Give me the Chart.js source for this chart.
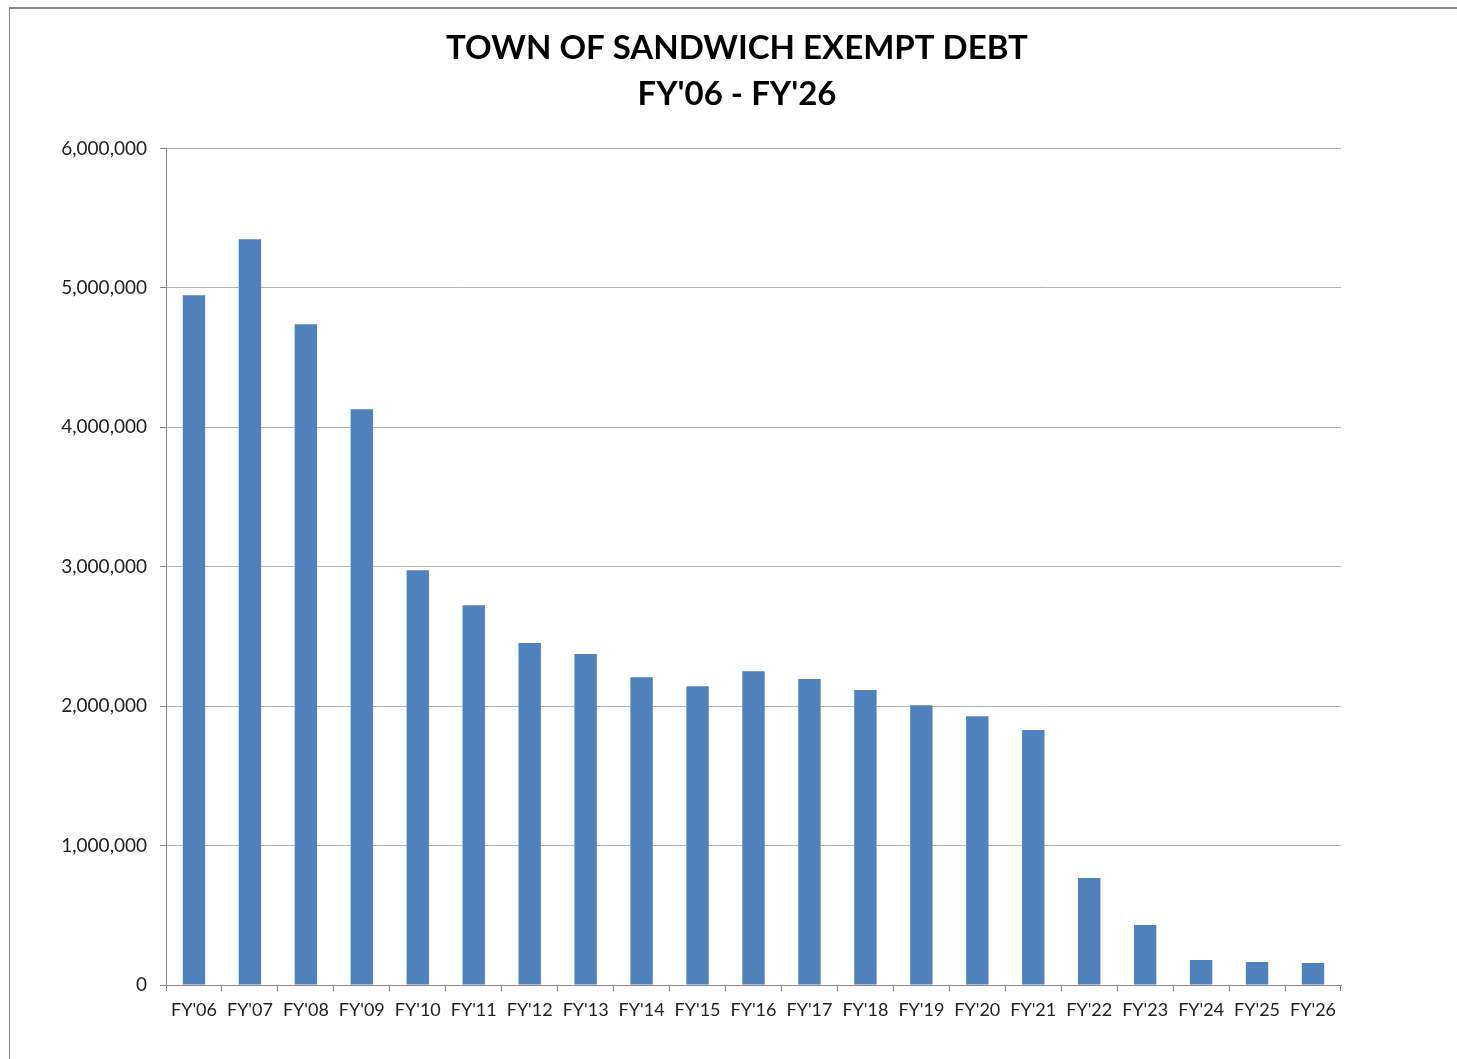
<!DOCTYPE html>
<html lang="en">
<head>
  <meta charset="UTF-8">
  <title>Town of Sandwich Exempt Debt</title>
  <script src="https://cdn.jsdelivr.net/npm/chart.js"></script>
  <style>
    html, body {
      margin: 0;
      padding: 0;
      background: #fff;
      overflow: hidden;
    }
    .frame {
      position: absolute;
      left: 9px;
      top: 7px;
      width: 1460px;
      height: 1070px;
      border-top: 2px solid #888;
      border-left: 1px solid #888;
    }
    .chart-box {
      position: absolute;
      left: 10px;
      top: 8px;
      width: 1454px;
      height: 1051px;
    }
  </style>
</head>
<body>
  <div class="frame"></div>
  <div class="chart-box">
    <canvas id="debtChart"></canvas>
  </div>

  <script>
    const fiscalYears = ["FY'06", "FY'07", "FY'08", "FY'09", "FY'10", "FY'11", "FY'12",
      "FY'13", "FY'14", "FY'15", "FY'16", "FY'17", "FY'18", "FY'19", "FY'20", "FY'21",
      "FY'22", "FY'23", "FY'24", "FY'25", "FY'26"];

    const exemptDebt = [4946000, 5348000, 4738000, 4129000, 2975000, 2724000, 2452000,
      2373000, 2208000, 2143000, 2251000, 2194000, 2115000, 2007000, 1928000, 1828000,
      767000, 430000, 179000, 165000, 158000];

    const titleLines = ["TOWN OF SANDWICH EXEMPT DEBT", "FY'06 - FY'26"];

    const font = "Lato, 'Open Sans', sans-serif";

    new Chart(document.getElementById('debtChart'), {
      type: 'bar',
      data: {
        labels: fiscalYears,
        datasets: [{
          label: 'Exempt Debt',
          data: exemptDebt,
          backgroundColor: '#4f81bd',
          barPercentage: 0.4,
          categoryPercentage: 1.0
        }]
      },
      options: {
        responsive: true,
        maintainAspectRatio: false,
        animation: false,
        layout: { padding: 0 },
        plugins: {
          legend: { display: false },
          tooltip: { enabled: false },
          title: {
            display: true,
            text: titleLines,
            color: '#000',
            font: { family: font, size: 33, weight: 'bold', lineHeight: 1.4 },
            padding: { top: 17, bottom: 31 }
          }
        },
        scales: {
          x: {
            grid: {
              drawOnChartArea: false,
              drawTicks: true,
              tickLength: 6,
              color: '#888',
              tickColor: '#888'
            },
            border: { color: '#888', width: 1 },
            ticks: {
              color: '#222',
              font: { family: font, size: 18 },
              padding: 8,
              maxRotation: 0,
              autoSkip: false
            },
            afterFit: scale => { scale.height = 74; }
          },
          y: {
            min: 0,
            max: 6000000,
            grid: {
              color: '#b3b3b3',
              tickColor: '#888',
              tickLength: 6
            },
            border: { color: '#888', width: 1 },
            ticks: {
              stepSize: 1000000,
              color: '#222',
              font: { family: font, size: 19 },
              padding: 13,
              callback: v => v.toLocaleString('en-US')
            },
            afterFit: scale => { scale.width = 156; }
          },
          // empty right-hand space so the title centres over the whole frame
          spacer: {
            position: 'right',
            display: true,
            grid: { display: false },
            border: { display: false },
            ticks: { display: false },
            afterFit: scale => { scale.width = 123; }
          }
        }
      }
    });
  </script>
</body>
</html>
